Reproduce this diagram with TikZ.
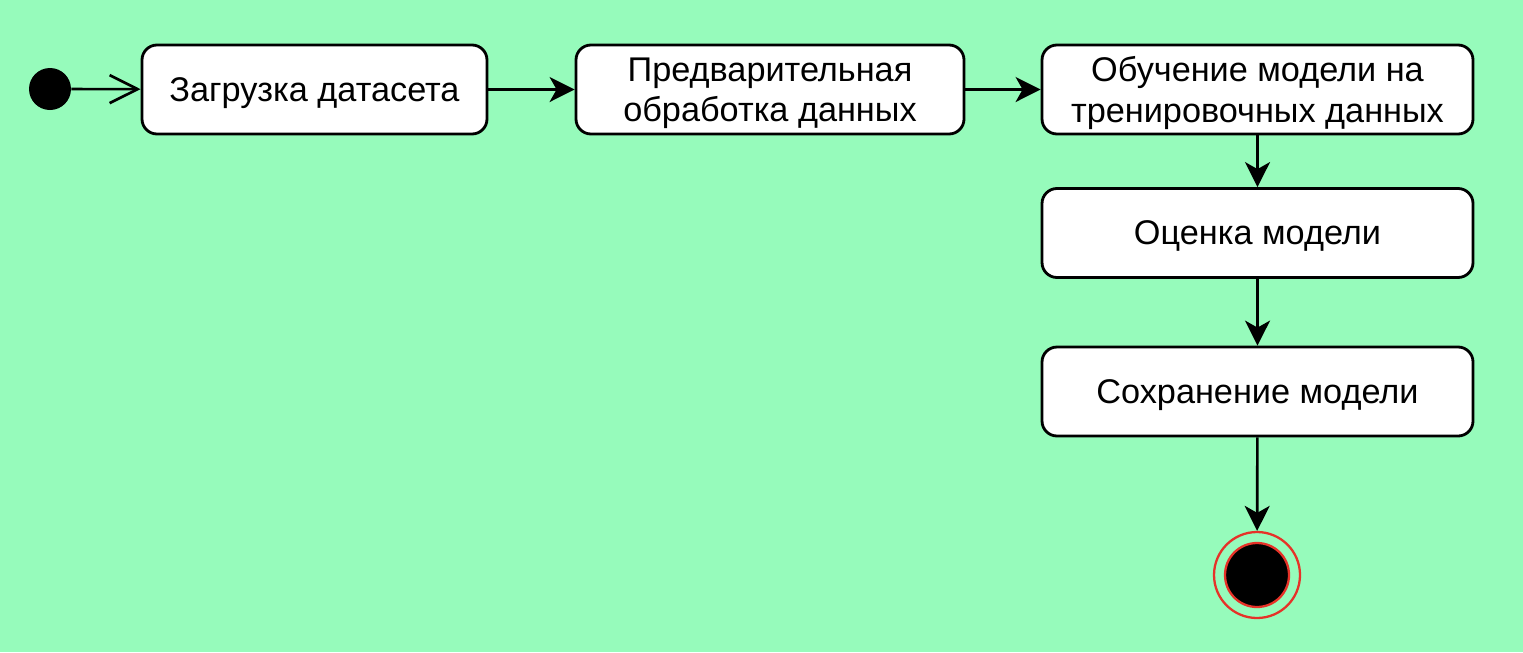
\documentclass[tikz,border=0pt]{standalone}
\usepackage{fontspec}
\setmainfont{Liberation Sans}
\usetikzlibrary{arrows.meta,positioning}
\definecolor{bgreen}{RGB}{150,251,187}
\definecolor{endred}{RGB}{230,50,40}

\begin{document}
\begin{tikzpicture}
	[font=\fontsize{19.5}{23}\selectfont,
		action/.style		={rectangle, rounded corners=0.3cm, draw=black, line width=1.6pt, fill=white,
									align=center, minimum height=1.78cm, inner sep=2pt, text depth=0pt},
		initial/.style		={circle, fill=black, minimum size=0.84cm, inner sep=0pt},
		final/.style		={circle, draw=endred, line width=1.3pt, fill=black,
									minimum size=1.28cm, inner sep=0pt},
		ring/.style			={circle, draw=endred, line width=1.3pt,
									minimum size=1.72cm, inner sep=0pt},
		line/.style			={draw, line width=1.5pt, -{Stealth[length=0.5cm, width=0.5cm, inset=0.14cm]}},
		open/.style			={draw, line width=1.5pt, -{Straight Barb[length=0.56cm, width=0.56cm, line width=1.5pt]}}
	]
\useasboundingbox [fill=bgreen] (0,0) rectangle (30.46,-13.04);

% top row
\node [initial] (start)									at (1.0,-1.78) {};
\node [action, minimum width=6.9cm] (load)				at (6.29,-1.79) {Загрузка датасета};
\node [action, minimum width=7.76cm] (prep)				at (15.4,-1.79) {Предварительная\\обработка данных};
\node [action, minimum width=8.62cm] (train)			at (25.15,-1.79) {Обучение модели на\\тренировочных данных};
% right column
\node [action, minimum width=8.62cm] (eval)				at (25.15,-4.66) {Оценка модели};
\node [action, minimum width=8.62cm] (save)				at (25.15,-7.83) {Сохранение модели};
\node [final] (stop)									at (25.14,-11.5) {};
\node [ring] (stop ring)								at (stop) {};

\path [open]			(start)		-- (load);
\begin{scope}[every path/.style=line]
	\path					(load)		-- (prep);
	\path					(prep)		-- (train);
	\path					(train)		-- (eval);
	\path					(eval)		-- (save);
	\path					(save)		-- (stop ring);
\end{scope}
\end{tikzpicture}
\end{document}
